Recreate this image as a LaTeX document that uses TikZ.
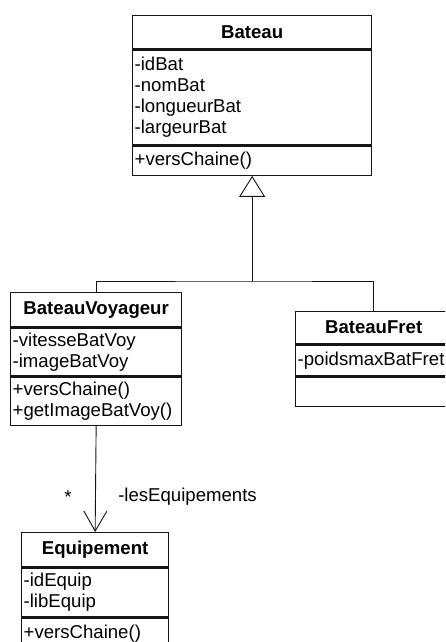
\documentclass[tikz,border=0pt]{standalone}
\usepackage{fontspec}
\setmainfont{Liberation Sans}
\usetikzlibrary{positioning,arrows.meta}
\definecolor{umlline}{RGB}{20,20,20}

\begin{document}
\begin{tikzpicture}[x=1pt,y=1pt,
	font=\fontsize{18.6}{21}\selectfont,
	ctitle/.style={draw=umlline,line width=1.3pt,font=\fontsize{18.6}{21}\selectfont\bfseries,inner sep=0pt,anchor=north west},
	cpart/.style={draw=umlline,line width=1.3pt,align=left,inner xsep=2pt,inner ysep=0pt},
	link/.style={draw=umlline,line width=0.9pt}]
	\useasboundingbox (0,0) rectangle (445,642);
	\clip (0,0) rectangle (445,642);
	% Bateau
	\node[ctitle,minimum width=239pt,minimum height=33pt] (bateau) at (132,627) {Bateau};
	\node[cpart,text width=235pt,minimum height=95pt,below=0pt of bateau] (bateauattr) {-idBat\\-nomBat\\-longueurBat\\-largeurBat};
	\node[cpart,text width=235pt,minimum height=29pt,below=0pt of bateauattr] (bateaumeth) {+versChaine()};
	% BateauVoyageur
	\node[ctitle,minimum width=171pt,minimum height=34pt] (bv) at (10,350) {BateauVoyageur};
	\node[cpart,text width=167pt,minimum height=48pt,below=0pt of bv] (bvattr) {-vitesseBatVoy\\-imageBatVoy};
	\node[cpart,text width=167pt,minimum height=48pt,below=0pt of bvattr] (bvmeth) {+versChaine()\\+getImageBatVoy()};
	% BateauFret
	\node[ctitle,minimum width=156pt,minimum height=32pt] (fret) at (295,331) {BateauFret};
	\node[cpart,text width=152pt,minimum height=31pt,below=0pt of fret] (fretattr) {-poidsmaxBatFret};
	\node[cpart,text width=152pt,minimum height=29pt,below=0pt of fretattr] (fretmeth) {};
	% Equipement
	\node[ctitle,minimum width=147pt,minimum height=34pt] (equip) at (21,110) {Equipement};
	\node[cpart,text width=143pt,minimum height=49pt,below=0pt of equip] (equipattr) {-idEquip\\-libEquip};
	\node[cpart,text width=143pt,minimum height=30pt,below=0pt of equipattr] (equipmeth) {+versChaine()};
	% heritage
	\coordinate (fork) at (bateaumeth.south |- 0,361);
	\draw[link] (bv.north) |- (fork) -| (fret.north);
	\draw[link,-{Triangle[open,length=21pt,width=26pt,line width=0.9pt]}] (fork) -- (bateaumeth.south);
	% association
	\draw[link,-{Straight Barb[length=20pt,width=23pt,line width=0.9pt]}] (bvmeth.south) -- (equip.north)
		node[pos=0.67,left=20pt] (card) {*}
		node[pos=0.67,right=19pt] (role) {-lesEquipements};
\end{tikzpicture}
\end{document}
